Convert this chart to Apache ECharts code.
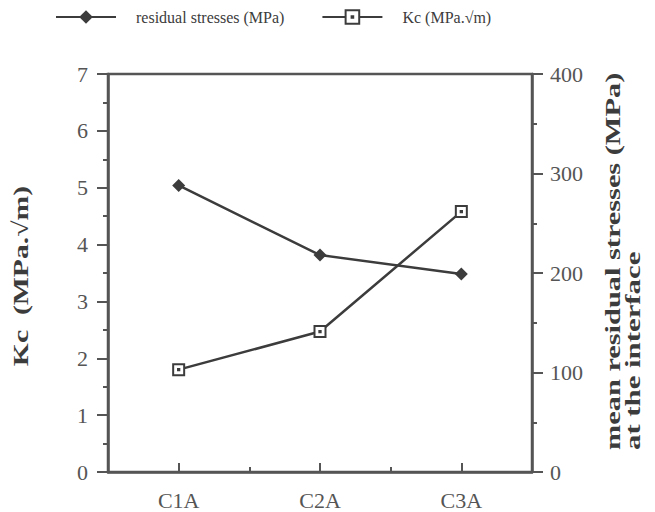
<!DOCTYPE html>
<html>
<head>
<meta charset="utf-8">
<script src="https://cdn.jsdelivr.net/npm/echarts@6/dist/echarts.min.js"></script>
<style>
  html, body { margin: 0; padding: 0; background: #fff; }
  #chart { width: 655px; height: 512px; }
</style>
</head>
<body>
<div id="chart"></div>
<script>
var categories = ['C1A', 'C2A', 'C3A'];
var residualStress = [288, 218, 199];
var kcValues = [1.80, 2.47, 4.58];
var seriesNames = ['residual stresses (MPa)', 'Kc (MPa.\u221Am)'];
var leftTitle = 'Kc  (MPa.\u221Am)';
var rightTitle1 = 'mean residual stresses (MPa)';
var rightTitle2 = 'at the interface';

(function() {
  var ink = '#3c3c3c';
  var axisInk = '#555';
  var serif = "'Liberation Serif', 'Times New Roman', serif";
  var squareSym = 'path://M0,0H10V10H0Z M4.4,4.4H5.6V5.6H4.4Z';

  var chart = echarts.init(document.getElementById('chart'), null, { renderer: 'svg' });

  var axisLine = { show: true, lineStyle: { color: axisInk, width: 2.5 } };
  var tickLabel = { color: axisInk, fontFamily: serif, fontSize: 22 };

  chart.setOption({
    animation: false,
    backgroundColor: '#fff',
    grid: {
      left: 108, right: 123, top: 74, bottom: 40,
      show: true, borderColor: axisInk, borderWidth: 2.5, backgroundColor: 'transparent'
    },
    legend: {
      data: seriesNames,
      left: 55, top: 9, padding: 0,
      itemWidth: 60, itemHeight: 17, itemGap: 37,
      textStyle: { color: ink, fontFamily: serif, fontSize: 16, padding: [0, 0, 0, 15] }
    },
    xAxis: [{
      type: 'category',
      data: categories,
      boundaryGap: true,
      axisLine: axisLine,
      axisTick: { show: true, inside: true, length: 5, lineStyle: { color: axisInk, width: 2 } },
      axisLabel: Object.assign({ margin: 17 }, tickLabel),
      splitLine: { show: false }
    }, {
      type: 'category',
      data: categories,
      position: 'bottom',
      boundaryGap: true,
      axisLine: { show: false },
      axisTick: { show: true, inside: true, alignWithLabel: true, length: 9, lineStyle: { color: axisInk, width: 2 } },
      axisLabel: { show: false },
      splitLine: { show: false }
    }],
    yAxis: [{
      type: 'value',
      position: 'left',
      min: 0, max: 7, interval: 1,
      axisLine: axisLine,
      axisTick: { show: true, length: 11, lineStyle: { color: axisInk, width: 2 } },
      minorTick: { show: true, splitNumber: 2, length: 5, lineStyle: { color: axisInk, width: 2 } },
      axisLabel: Object.assign({ margin: 20 }, tickLabel),
      splitLine: { show: false }
    }, {
      type: 'value',
      position: 'right',
      min: 0, max: 400, interval: 100,
      axisLine: axisLine,
      axisTick: { show: true, length: 11, lineStyle: { color: axisInk, width: 2 } },
      minorTick: { show: true, splitNumber: 2, length: 5, lineStyle: { color: axisInk, width: 2 } },
      axisLabel: Object.assign({ margin: 18 }, tickLabel),
      splitLine: { show: false }
    }],
    series: [{
      name: seriesNames[0],
      type: 'line',
      yAxisIndex: 1,
      data: residualStress,
      symbol: 'diamond',
      symbolSize: 13,
      lineStyle: { color: ink, width: 2.5 },
      itemStyle: { color: ink }
    }, {
      name: seriesNames[1],
      type: 'line',
      yAxisIndex: 0,
      data: kcValues,
      symbol: squareSym,
      symbolSize: 11,
      lineStyle: { color: ink, width: 2.5 },
      itemStyle: { color: '#fff', borderColor: ink, borderWidth: 2 }
    }],
    graphic: [{
      type: 'text',
      x: 21, y: 276,
      rotation: Math.PI / 2,
      scaleX: 1.35,
      style: {
        text: leftTitle, fill: ink,
        font: 'bold 22px ' + serif,
        textAlign: 'center', textVerticalAlign: 'middle'
      }
    }, {
      type: 'text',
      x: 613, y: 450,
      rotation: Math.PI / 2,
      scaleX: 1.38,
      style: {
        text: rightTitle1, fill: ink,
        font: 'bold 22px ' + serif,
        textAlign: 'left', textVerticalAlign: 'middle'
      }
    }, {
      type: 'text',
      x: 633, y: 450,
      rotation: Math.PI / 2,
      scaleX: 1.4,
      style: {
        text: rightTitle2, fill: ink,
        font: 'bold 22px ' + serif,
        textAlign: 'left', textVerticalAlign: 'middle'
      }
    }]
  });
  window.addEventListener('resize', function() { chart.resize(); });
})();
</script>
</body>
</html>
